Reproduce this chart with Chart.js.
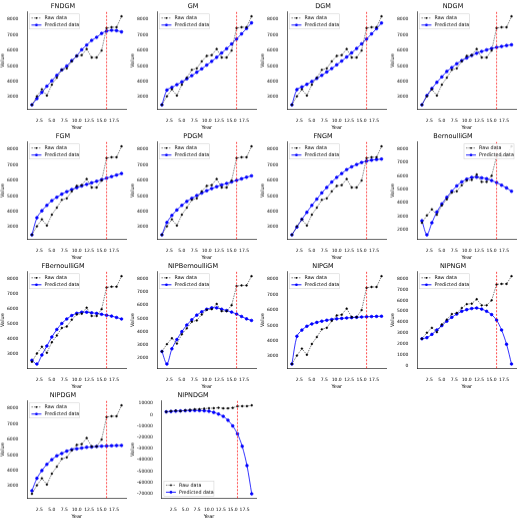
<!DOCTYPE html>
<html><head><meta charset="utf-8">
<script src="https://cdn.jsdelivr.net/npm/chart.js@4"></script>
<style>
body{margin:0;background:#fff}
#grid{display:grid;grid-template-columns:repeat(4,130px);grid-auto-rows:129.75px;width:520px}
.cell{position:relative;width:130px;height:129.75px}
</style></head><body>
<div id="grid"></div>
<script>
// 연도 (1..19)
const years = [1,2,3,4,5,6,7,8,9,10,11,12,13,14,15,16,17,18,19];
// 실제 데이터
const rawData = [2500,3050,3500,3100,3800,4250,4750,4850,5300,5650,5700,6100,5550,5550,6000,7450,7500,7500,8200];

const modelNames = ['FNDGM','GM','DGM','NDGM','FGM','PDGM','FNGM','BernoulliGM','FBernoulliGM','NIPBernoulliGM','NIPGM','NIPNGM','NIPDGM','NIPNDGM'];

const predFNDGM = [2500,2900,3300,3700,4050,4400,4750,5000,5350,5650,6050,6350,6650,6850,7100,7250,7300,7280,7200];
const predGM = [2500,3450,3620,3800,3980,4180,4380,4600,4820,5060,5300,5560,5840,6120,6420,6740,7070,7420,7780];
const predDGM = [2500,3480,3650,3820,4000,4200,4400,4620,4840,5080,5320,5580,5850,6130,6430,6740,7070,7410,7770];
const predNDGM = [2500,3100,3550,3950,4300,4650,4900,5150,5350,5520,5680,5820,5940,6040,6130,6200,6260,6320,6370];
const predFGM = [2500,3600,4050,4400,4700,4920,5120,5280,5420,5540,5650,5750,5850,5950,6050,6150,6250,6350,6450];
const predPDGM = [2500,3300,3750,4100,4400,4650,4850,5030,5190,5340,5480,5600,5710,5810,5910,6010,6110,6210,6300];
const predFNGM = [2500,3000,3500,3950,4400,4800,5200,5550,5900,6200,6450,6700,6880,7030,7160,7250,7310,7350,7380];
const predBernoulliGM = [2650,1600,2500,3300,3900,4400,4850,5250,5550,5750,5880,5900,5850,5780,5650,5500,5300,5100,4850];
const predFBernoulliGM = [2600,2350,2950,3550,4150,4650,5050,5350,5580,5730,5800,5800,5760,5720,5660,5600,5540,5450,5350];
const predNIPBernoulliGM = [2500,1550,2700,3400,4000,4500,4900,5250,5500,5700,5800,5800,5700,5600,5480,5330,5150,4970,4850];
const predNIPGM = [2500,4300,4700,4950,5100,5200,5280,5340,5390,5430,5460,5490,5510,5530,5550,5565,5580,5590,5600];
const predNIPNGM = [2500,2600,2900,3300,3700,4100,4450,4750,5000,5150,5250,5300,5200,5000,4700,4200,3300,2000,200];
const predNIPDGM = [2700,3500,4000,4400,4700,4950,5100,5250,5350,5400,5450,5500,5520,5550,5570,5580,5600,5610,5620];
const predNIPNDGM = [2500,2800,3100,3300,3500,3600,3700,3600,3400,3000,2000,500,-1500,-5000,-10000,-17000,-28000,-45000,-70000];

const predictions = [predFNDGM,predGM,predDGM,predNDGM,predFGM,predPDGM,predFNGM,predBernoulliGM,predFBernoulliGM,predNIPBernoulliGM,predNIPGM,predNIPNGM,predNIPDGM,predNIPNDGM];
const legendSpot = ['tl','tl','tl','tl','tl','tl','tl','tr','tl','tl','tl','tl','tl','bl'];
const splitYear = 16;

// 빨간 점선 + 범례를 직접 그리는 플러그인
const extras = {
  id: 'extras',
  afterDatasetsDraw(chart) {
    const {ctx, chartArea: a, scales} = chart;
    const x = scales.x.getPixelForValue(splitYear);
    ctx.save();
    ctx.strokeStyle = 'red'; ctx.lineWidth = 0.7; ctx.setLineDash([2, 1.5]);
    ctx.beginPath(); ctx.moveTo(x, a.top); ctx.lineTo(x, a.bottom); ctx.stroke();
    ctx.setLineDash([]);
    const spot = chart.options.plugins.extras.spot;
    const w = 50, h = 15;
    const lx = spot === 'tr' ? a.right - w - 2 : a.left + 2;
    const ly = spot === 'bl' ? a.bottom - h - 2 : a.top + 2;
    ctx.fillStyle = 'rgba(255,255,255,0.85)'; ctx.strokeStyle = '#ccc'; ctx.lineWidth = 0.5;
    ctx.fillRect(lx, ly, w, h); ctx.strokeRect(lx, ly, w, h);
    const rows = [['Raw data', 'black', 0.9], ['Predicted data', 'blue', 1.3]];
    ctx.font = '4.8px "DejaVu Sans"'; ctx.textBaseline = 'middle';
    rows.forEach((r, i) => {
      const yy = ly + 4 + i * 7;
      ctx.strokeStyle = r[1]; ctx.lineWidth = i ? 0.9 : 0.5;
      if (i === 0) ctx.setLineDash([1.5, 1]);
      ctx.beginPath(); ctx.moveTo(lx + 2, yy); ctx.lineTo(lx + 12, yy); ctx.stroke();
      ctx.setLineDash([]);
      ctx.fillStyle = r[1]; ctx.beginPath(); ctx.arc(lx + 7, yy, r[2], 0, Math.PI * 2); ctx.fill();
      ctx.fillStyle = '#000'; ctx.fillText(r[0], lx + 15, yy);
    });
    ctx.restore();
  }
};

const grid = document.getElementById('grid');
modelNames.forEach((name, i) => {
  const div = document.createElement('div'); div.className = 'cell';
  const cv = document.createElement('canvas'); div.appendChild(cv); grid.appendChild(div);
  const all = rawData.concat(predictions[i]);
  const lo = Math.min(...all), hi = Math.max(...all), pad = (hi - lo) * 0.05;
  const step = name === 'NIPNDGM' ? 10000 : 1000;
  new Chart(cv, {
    type: 'line',
    data: { datasets: [
      { data: years.map((y, k) => ({x: y, y: rawData[k]})), borderColor: 'black', backgroundColor: 'black',
        borderWidth: 0.5, borderDash: [1.5, 1], pointRadius: 0.9, pointHoverRadius: 0 },
      { data: years.map((y, k) => ({x: y, y: predictions[i][k]})), borderColor: 'blue', backgroundColor: 'blue',
        borderWidth: 0.8, pointRadius: 1.3, pointHoverRadius: 0, tension: 0.3 }
    ]},
    options: {
      responsive: true, maintainAspectRatio: false, animation: false,
      layout: { padding: {top: 1, right: 4, left: 0, bottom: 0} },
      plugins: {
        legend: { display: false }, tooltip: { enabled: false },
        title: { display: true, text: name, color: '#000', font: {size: 6.5, family: 'DejaVu Sans', weight: 'normal'}, padding: {top: 1, bottom: 2} },
        extras: { spot: legendSpot[i] }
      },
      scales: {
        x: { type: 'linear', min: 0.1, max: 19.9, grid: { display: false },
             border: { color: '#000', width: 0.6 },
             afterBuildTicks: s => { s.ticks = [2.5,5,7.5,10,12.5,15,17.5].map(v => ({value: v})); },
             ticks: { color: '#000', font: {size: 4.5, family: 'DejaVu Sans'}, padding: 1, maxRotation: 0, autoSkip: false, callback: v => v.toFixed(1) },
             title: { display: true, text: 'Year', color: '#000', font: {size: 5, family: 'DejaVu Sans'}, padding: 0 } },
        y: { min: lo - pad, max: hi + pad, grid: { display: false }, border: { color: '#000', width: 0.6 },
             afterBuildTicks: s => {
               const t = [];
               for (let v = Math.ceil(s.min / step) * step; v <= s.max; v += step) t.push({value: v});
               s.ticks = t;
             },
             ticks: { color: '#000', font: {size: 4.5, family: 'DejaVu Sans'}, padding: 1, callback: v => String(v) },
             title: { display: true, text: 'Value', color: '#000', font: {size: 5, family: 'DejaVu Sans'}, padding: 0 } }
      }
    },
    plugins: [extras]
  });
});
</script>
</body></html>
